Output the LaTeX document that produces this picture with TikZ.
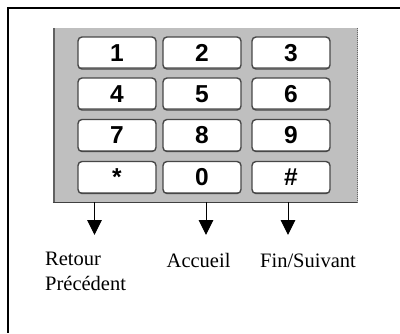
\documentclass[tikz,border=0pt]{standalone}
\usepackage{fontspec}
\setmainfont{Liberation Serif}
\newfontfamily\keyfont{Liberation Sans}
\usepackage{tikz}
\usetikzlibrary{arrows.meta}

\begin{document}
\begin{tikzpicture}[x=1pt,y=-1pt,
        keybtn/.style={draw=black!72,line width=1.4pt,fill=white,rounded corners=4pt,
          minimum width=78pt,minimum height=32pt,inner sep=0pt,
          font=\keyfont\fontsize{24.5}{24.5}\selectfont\bfseries,
          path picture={\draw[black!45,line width=3.5pt]
            (path picture bounding box.south west) -- (path picture bounding box.south east);}},
        pointer/.style={line width=1pt,-{Triangle[width=14.5pt,length=15pt]}},
        legendtext/.style={inner sep=0pt,align=left,font=\fontsize{20.5}{25}\selectfont}]
        \useasboundingbox (0,0) rectangle (400,333);
        \draw[line width=2pt] (400,8) -- (8,8) -- (8,333);

        \node[fill=black!25,minimum width=305pt,minimum height=174pt,inner sep=0pt] (panel) at (205.5,115) {};
        \draw[black!62,line width=2pt] ([xshift=1pt]panel.north west) -- ([xshift=1pt]panel.south west);
        \draw[black!75,line width=1.2pt] (panel.south west) -- (panel.south east);
        \draw[black!60,line width=1pt,densely dotted] ([xshift=-0.5pt]panel.north east) -- ([xshift=-0.5pt]panel.south east);

        \node[keybtn] (k1) at (117,53) {1};
        \node[keybtn] (k2) at (202,53) {2};
        \node[keybtn] (k3) at (291,53) {3};
        \node[keybtn] (k4) at (117,94) {4};
        \node[keybtn] (k5) at (202,94) {5};
        \node[keybtn] (k6) at (291,94) {6};
        \node[keybtn] (k7) at (117,135.5) {7};
        \node[keybtn] (k8) at (202,135.5) {8};
        \node[keybtn] (k9) at (291,135.5) {9};
        \node[keybtn] (kstar) at (117,177.5) {*};
        \node[keybtn] (k0) at (202,177.5) {0};
        \node[keybtn] (khash) at (291,177.5) {\#};

        \coordinate (tretour) at (94.5,235);
        \coordinate (taccueil) at (206,235);
        \coordinate (tsuivant) at (288,235);
        \draw[pointer] (panel.south -| tretour) -- (tretour);
        \draw[pointer] (panel.south -| taccueil) -- (taccueil);
        \draw[pointer] (panel.south -| tsuivant) -- (tsuivant);

        \node[legendtext,anchor=north west] (retour) at (45,251.5) {Retour\\Précédent};
        \node[legendtext,anchor=base west] (accueil) at (166.5,267.5) {Accueil};
        \node[legendtext,anchor=base west] (suivant) at (260,267.5) {Fin/Suivant};
\end{tikzpicture}
\end{document}
